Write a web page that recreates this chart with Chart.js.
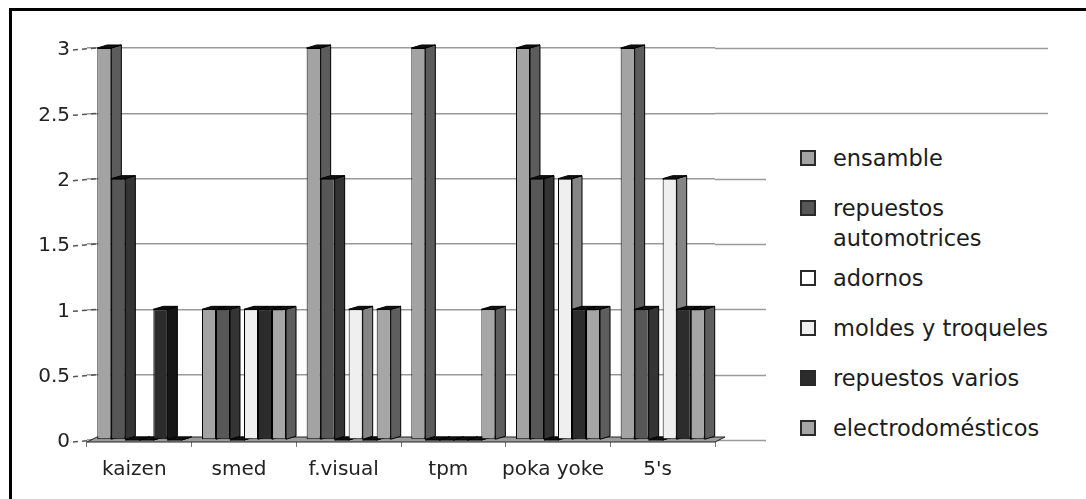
<!DOCTYPE html>
<html>
<head>
<meta charset="utf-8">
<script src="https://cdn.jsdelivr.net/npm/chart.js@4/dist/chart.umd.min.js"></script>
<style>
  html, body { margin: 0; padding: 0; background: #fff; overflow: hidden; }
  #wrap { position: relative; width: 1086px; height: 499px; }
  #chart { position: absolute; left: 0; top: 0; }
  #frame {
    position: absolute; left: 9px; top: 8px; width: 1120px; height: 540px;
    border: 3px solid #000; box-sizing: border-box; pointer-events: none;
  }
  #legend {
    position: absolute; left: 766px; top: 140px; width: 286px; height: 318px;
    background: #fff; box-sizing: border-box; padding: 3px 0 0 34px;
    font-family: "DejaVu Sans", sans-serif; font-size: 22.5px; color: #1c1c1c;
  }
  .item { display: flex; align-items: flex-start; margin-bottom: 20px; }
  .item.wrapped { margin-bottom: 10px; }
  .swatch {
    width: 16px; height: 16px; margin: 7px 17px 0 0; flex: none;
    border: 2px solid #2a2a2a; box-sizing: border-box;
  }
  .label { line-height: 30px; max-width: 232px; }
</style>
</head>
<body>
<div id="wrap">
  <canvas id="chart" width="1086" height="499"></canvas>
  <div id="legend"></div>
  <div id="frame"></div>
</div>
<script>
// Categories and series values
const categories = ['kaizen', 'smed', 'f.visual', 'tpm', 'poka yoke', "5's"];
const seriesNames = ['ensamble', 'repuestos automotrices', 'adornos',
                     'moldes y troqueles', 'repuestos varios', 'electrodomésticos'];
const ensamble              = [3, 1, 3, 3, 3, 3];
const repuestosAutomotrices = [2, 1, 2, 0, 2, 1];
const adornos               = [0, 0, 0, 0, 0, 0];
const moldesYTroqueles      = [0, 1, 1, 0, 2, 2];
const repuestosVarios       = [1, 1, 0, 0, 1, 1];
const electrodomesticos     = [0, 1, 1, 1, 1, 1];
const yTicks = [0, 0.5, 1, 1.5, 2, 2.5, 3];
const yTickLabels = ['0', '0.5', '1', '1.5', '2', '2.5', '3'];

// Face colours: front and shaded right side of each series
const frontColors = ['#a3a3a3', '#575757', '#ffffff', '#efefef', '#2c2c2c', '#a6a6a6'];
const sideColors  = ['#5c5c5c', '#343434', '#8c8c8c', '#858585', '#151515', '#5e5e5e'];

const seriesValues = [ensamble, repuestosAutomotrices, adornos,
                      moldesYTroqueles, repuestosVarios, electrodomesticos];

const DEPTH_X = 10, DEPTH_Y = 3, WALL_RIGHT = 1048;

// Draws the pseudo-3D parts: wall gridline extension, axis dashes, floor,
// and the side/top faces of every bar, under the bar fronts.
const depthPlugin = {
  id: 'depth',
  beforeDatasetsDraw(chart) {
    const { ctx, chartArea, scales: { x, y } } = chart;
    ctx.save();

    ctx.strokeStyle = '#9a9a9a';
    ctx.lineWidth = 1.5;
    y.ticks.forEach(t => {
      const py = Math.round(y.getPixelForValue(t.value)) + 0.5;
      ctx.beginPath();
      ctx.moveTo(chartArea.right, py);
      ctx.lineTo(WALL_RIGHT, py);
      ctx.stroke();
    });

    ctx.strokeStyle = '#555';
    ctx.setLineDash([5, 4]);
    y.ticks.forEach(t => {
      const py = y.getPixelForValue(t.value);
      ctx.beginPath();
      ctx.moveTo(73, py + 2);
      ctx.lineTo(97, py);
      ctx.stroke();
    });
    ctx.setLineDash([]);

    const base = y.getPixelForValue(0);
    ctx.lineWidth = 1;
    ctx.strokeStyle = '#222';
    ctx.fillStyle = '#9c9c9c';
    ctx.beginPath();
    ctx.moveTo(chartArea.left, base + 2);
    ctx.lineTo(chartArea.right, base + 2);
    ctx.lineTo(chartArea.right + DEPTH_X, base - DEPTH_Y);
    ctx.lineTo(chartArea.left + DEPTH_X, base - DEPTH_Y);
    ctx.closePath();
    ctx.fill();
    ctx.stroke();

    ctx.strokeStyle = '#000';
    chart.data.datasets.forEach((ds, i) => {
      chart.getDatasetMeta(i).data.forEach(bar => {
        const p = bar.getProps(['x', 'y', 'base', 'width'], true);
        const l = p.x - p.width / 2, r = p.x + p.width / 2;
        ctx.fillStyle = sideColors[i];
        ctx.beginPath();
        ctx.moveTo(r, p.base);
        ctx.lineTo(r + DEPTH_X, p.base - DEPTH_Y);
        ctx.lineTo(r + DEPTH_X, p.y - DEPTH_Y);
        ctx.lineTo(r, p.y);
        ctx.closePath();
        ctx.fill();
        ctx.stroke();
        ctx.fillStyle = '#111';
        ctx.beginPath();
        ctx.moveTo(l, p.y);
        ctx.lineTo(r, p.y);
        ctx.lineTo(r + DEPTH_X, p.y - DEPTH_Y);
        ctx.lineTo(l + DEPTH_X, p.y - DEPTH_Y);
        ctx.closePath();
        ctx.fill();
        ctx.stroke();
      });
    });
    ctx.restore();
  }
};

const tickFont = { family: 'DejaVu Sans', size: 20 };

const chart = new Chart(document.getElementById('chart'), {
  type: 'bar',
  data: {
    labels: categories,
    datasets: seriesNames.map((name, i) => ({
      label: name,
      data: seriesValues[i],
      backgroundColor: frontColors[i],
      borderColor: '#000',
      borderWidth: 1,
      borderSkipped: false,
      categoryPercentage: 0.803,
      barPercentage: 1.0
    }))
  },
  options: {
    responsive: false,
    animation: false,
    layout: { padding: { top: 48, right: 371, bottom: 0, left: 0 } },
    plugins: { legend: { display: false }, tooltip: { enabled: false } },
    scales: {
      x: {
        grid: { display: true, drawOnChartArea: false, drawTicks: true,
                tickLength: 7, tickColor: '#777', offset: true },
        border: { display: false },
        ticks: { font: tickFont, color: '#222', padding: 11, labelOffset: -5,
                 maxRotation: 0, autoSkip: false },
        afterFit(scale) { scale.height = 59; }
      },
      y: {
        min: 0, max: 3,
        afterBuildTicks(scale) { scale.ticks = yTicks.map(v => ({ value: v })); },
        grid: { color: '#9a9a9a', lineWidth: 1.5, drawTicks: false },
        border: { display: false },
        ticks: {
          font: tickFont, color: '#222', padding: 17, labelOffset: 2,
          callback: (value, index) => yTickLabels[index]
        },
        afterFit(scale) { scale.width = 87; }
      }
    }
  },
  plugins: [depthPlugin]
});

// Legend built from the chart's datasets
const legendEl = document.getElementById('legend');
chart.data.datasets.forEach(ds => {
  const item = document.createElement('div');
  item.className = 'item';
  const sw = document.createElement('span');
  sw.className = 'swatch';
  sw.style.background = ds.backgroundColor;
  const tx = document.createElement('span');
  tx.className = 'label';
  tx.textContent = ds.label;
  item.appendChild(sw);
  item.appendChild(tx);
  legendEl.appendChild(item);
  if (tx.offsetHeight > 40) item.classList.add('wrapped');
});
</script>
</body>
</html>
